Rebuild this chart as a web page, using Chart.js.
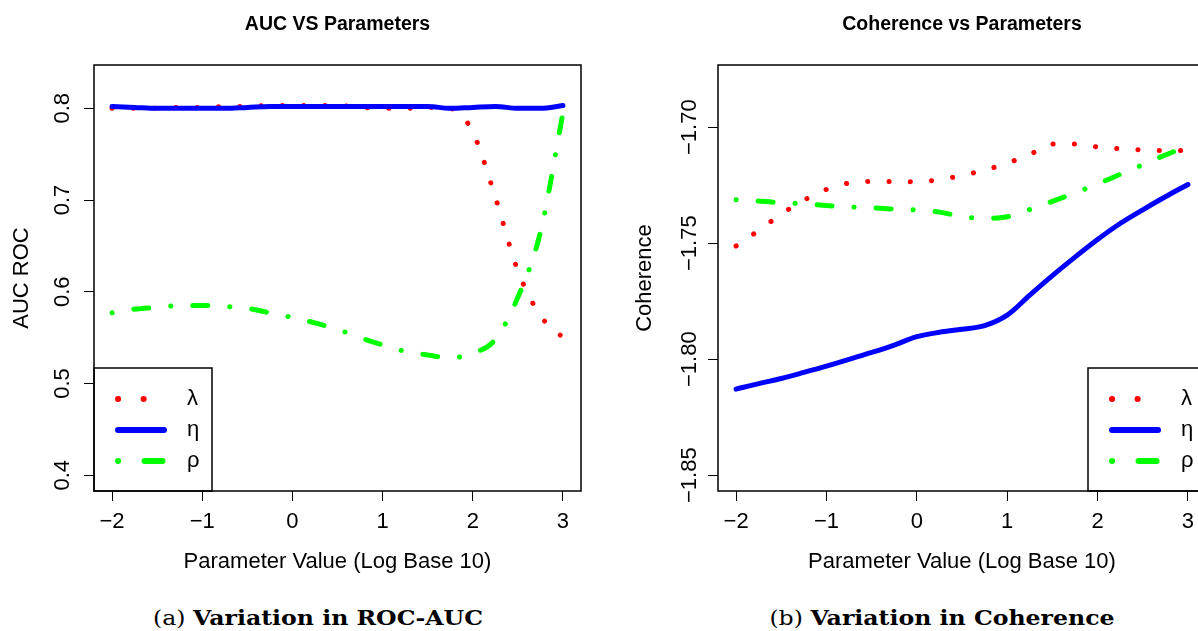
<!DOCTYPE html>
<html>
<head>
<meta charset="utf-8">
<script src="https://cdn.jsdelivr.net/npm/chart.js@4.4.1/dist/chart.umd.min.js"></script>
<style>
  html, body { margin: 0; padding: 0; background: #fff; }
  body { width: 1198px; height: 631px; overflow: hidden; position: relative; }
  canvas { position: absolute; top: 0; }
  #aucChart { left: 0; }
  #cohChart { left: 600px; }
  .caption { position: absolute; top: 606px; font: 20px "DejaVu Serif", serif; white-space: nowrap; transform: translateX(-50%) scaleX(1.18); color: #000; }
</style>
</head>
<body>
<canvas id="aucChart" width="600" height="600"></canvas>
<canvas id="cohChart" width="620" height="600"></canvas>
<div class="caption" style="left:318px">(a) <b>Variation in ROC-AUC</b></div>
<div class="caption" style="left:942px">(b) <b>Variation in Coherence</b></div>
<script>
// parameter values (log10) shared by every series
const paramValues = [-2, -1.75, -1.5, -1.25, -1, -0.75, -0.5, -0.25, 0, 0.25, 0.5, 0.75, 1, 1.25, 1.5, 1.75, 2, 2.25, 2.5, 2.75, 3];

// AUC ROC
const aucLambda = [0.800, 0.800, 0.800, 0.801, 0.801, 0.802, 0.802, 0.803, 0.803, 0.803, 0.803, 0.801, 0.800, 0.800, 0.801, 0.800, 0.774, 0.703, 0.623, 0.574, 0.550];
const aucEta = [0.802, 0.801, 0.800, 0.800, 0.800, 0.800, 0.801, 0.802, 0.802, 0.802, 0.802, 0.802, 0.802, 0.802, 0.802, 0.800, 0.801, 0.802, 0.800, 0.800, 0.803];
const aucRho = [0.577, 0.581, 0.583, 0.585, 0.585, 0.584, 0.582, 0.577, 0.572, 0.566, 0.559, 0.550, 0.542, 0.535, 0.531, 0.528, 0.533, 0.548, 0.594, 0.665, 0.795];

// Coherence
const cohLambda = [-1.7512, -1.7445, -1.7375, -1.7315, -1.7268, -1.7241, -1.7234, -1.7234, -1.7235, -1.7226, -1.7208, -1.7185, -1.7155, -1.7118, -1.7072, -1.7072, -1.7085, -1.7093, -1.7098, -1.7101, -1.7101];
const cohEta = [-1.8129, -1.8105, -1.8083, -1.8057, -1.8030, -1.8001, -1.7971, -1.7939, -1.7903, -1.7884, -1.7871, -1.7855, -1.7810, -1.7724, -1.7640, -1.7560, -1.7484, -1.7415, -1.7356, -1.7300, -1.7247];
const cohRho = [-1.7313, -1.7318, -1.7326, -1.7330, -1.7338, -1.7344, -1.7347, -1.7353, -1.7357, -1.7366, -1.7385, -1.7393, -1.7386, -1.7355, -1.7320, -1.7283, -1.7245, -1.7203, -1.7162, -1.7120, -1.7082];

const seriesNames = ['λ', 'η', 'ρ'];
const xTickValues = [-2, -1, 0, 1, 2, 3];
const aucTickValues = [0.4, 0.5, 0.6, 0.7, 0.8];
const cohTickValues = [-1.85, -1.80, -1.75, -1.70];

// red dotted, blue solid, green dot-dash
const lineStyles = [
    { color: '#ff0000', dash: [0.1, 21.2] },
    { color: '#0000ff', dash: [] },
    { color: '#00ff00', dash: [0.1, 22, 15, 22] }
];

const axisFont = { family: 'Liberation Sans', size: 22 };

function minus(s) {
    return s.replace('-', '\u2212');
}

// R style axis range: 4% on both sides
function rRange(lo, hi) {
    const pad = (hi - lo) * 0.04;
    return { min: lo - pad, max: hi + pad };
}

// frame around the plot region
const plotBox = {
    id: 'plotBox',
    afterDraw(chart) {
        const { ctx, chartArea: a } = chart;
        ctx.save();
        ctx.strokeStyle = '#000';
        ctx.lineWidth = 1.5;
        ctx.strokeRect(a.left, a.top, a.right - a.left, a.bottom - a.top);
        ctx.restore();
    }
};

// legend box in a bottom corner of the plot, like R legend()
const boxLegend = {
    id: 'boxLegend',
    afterDraw(chart, args, opts) {
        const { ctx, chartArea: a } = chart;
        const w = 118, h = 123, k = 1.2;
        const left = opts.side === 'right' ? a.right - w : a.left;
        const top = a.bottom - h;
        ctx.save();
        ctx.strokeStyle = '#000';
        ctx.lineWidth = 1.5;
        ctx.strokeRect(left, top, w, h);
        chart.data.datasets.forEach((ds, i) => {
            const y = top + 31 + i * 31;
            ctx.beginPath();
            ctx.setLineDash(ds.borderDash.map(d => d * k));
            ctx.lineCap = 'round';
            ctx.lineWidth = ds.borderWidth * k;
            ctx.strokeStyle = ds.borderColor;
            ctx.moveTo(left + 24, y);
            ctx.lineTo(left + 70, y);
            ctx.stroke();
            ctx.setLineDash([]);
            ctx.fillStyle = '#000';
            ctx.font = '22px "Liberation Sans"';
            ctx.textAlign = 'left';
            ctx.textBaseline = 'middle';
            ctx.fillText(ds.label, left + 93, y);
        });
        ctx.restore();
    }
};

function buildChart(id, cfg) {
    const range = rRange(cfg.yLimits[0], cfg.yLimits[1]);
    return new Chart(document.getElementById(id), {
        type: 'line',
        data: {
            datasets: cfg.series.map((vals, i) => ({
                label: seriesNames[i],
                data: vals.map((v, j) => ({ x: paramValues[j], y: v })),
                borderColor: lineStyles[i].color,
                borderDash: lineStyles[i].dash,
                borderWidth: 5,
                borderCapStyle: 'round',
                borderJoinStyle: 'round',
                cubicInterpolationMode: 'monotone',
                pointRadius: 0,
                fill: false,
                order: 3 - i
            }))
        },
        options: {
            responsive: false,
            animation: false,
            events: [],
            layout: { padding: { left: 0, right: cfg.padRight, top: 0, bottom: 0 } },
            plugins: {
                legend: { display: false },
                tooltip: { enabled: false },
                title: {
                    display: true,
                    text: cfg.title,
                    fullSize: false,
                    color: '#000',
                    font: { family: 'Liberation Sans', size: 19.5, weight: 'bold' },
                    padding: { top: 13, bottom: 28.6 }
                },
                boxLegend: { side: cfg.legendSide }
            },
            scales: {
                x: {
                    type: 'linear',
                    min: -2.2,
                    max: 3.2,
                    afterBuildTicks: (axis) => { axis.ticks = xTickValues.map(v => ({ value: v })); },
                    afterFit: (axis) => { axis.height = 109; },
                    ticks: {
                        callback: (v) => minus(String(v)),
                        font: axisFont,
                        color: '#000',
                        padding: 7.8,
                        maxRotation: 0,
                        autoSkip: false
                    },
                    grid: { display: true, drawOnChartArea: false, drawTicks: true, tickLength: 10, color: '#000', lineWidth: 1 },
                    border: { display: false },
                    title: {
                        display: true,
                        text: 'Parameter Value (Log Base 10)',
                        font: axisFont,
                        color: '#000',
                        padding: { top: 0, bottom: 24.8 }
                    }
                },
                y: {
                    type: 'linear',
                    min: range.min,
                    max: range.max,
                    afterBuildTicks: (axis) => { axis.ticks = cfg.yTicks.map(v => ({ value: v })); },
                    afterFit: (axis) => { axis.width = cfg.yAxisWidth; },
                    ticks: {
                        callback: (v) => minus(v.toFixed(cfg.yDigits)),
                        font: axisFont,
                        color: '#000',
                        padding: cfg.yPad,
                        minRotation: 90,
                        maxRotation: 90,
                        crossAlign: 'center',
                        autoSkip: false
                    },
                    grid: { display: true, drawOnChartArea: false, drawTicks: true, tickLength: 10, color: '#000', lineWidth: 1 },
                    border: { display: false },
                    title: {
                        display: true,
                        text: cfg.yTitle,
                        font: axisFont,
                        color: '#000',
                        padding: { top: cfg.yTitlePad, bottom: 0 }
                    }
                }
            }
        },
        plugins: [plotBox, boxLegend]
    });
}

buildChart('aucChart', {
    title: 'AUC VS Parameters',
    series: [aucLambda, aucEta, aucRho],
    yLimits: [0.4, 0.83],
    yTicks: aucTickValues,
    yDigits: 1,
    yTitle: 'AUC ROC',
    yAxisWidth: 94,
    yPad: 5.7,
    yTitlePad: 8.8,
    padRight: 19,
    legendSide: 'left'
});

buildChart('cohChart', {
    title: 'Coherence vs Parameters',
    series: [cohLambda, cohEta, cohRho],
    yLimits: [-1.85, -1.68],
    yTicks: cohTickValues,
    yDigits: 2,
    yTitle: 'Coherence',
    yAxisWidth: 118,
    yPad: -9.8,
    yTitlePad: 31.8,
    padRight: 14,
    legendSide: 'right'
});
</script>
</body>
</html>
